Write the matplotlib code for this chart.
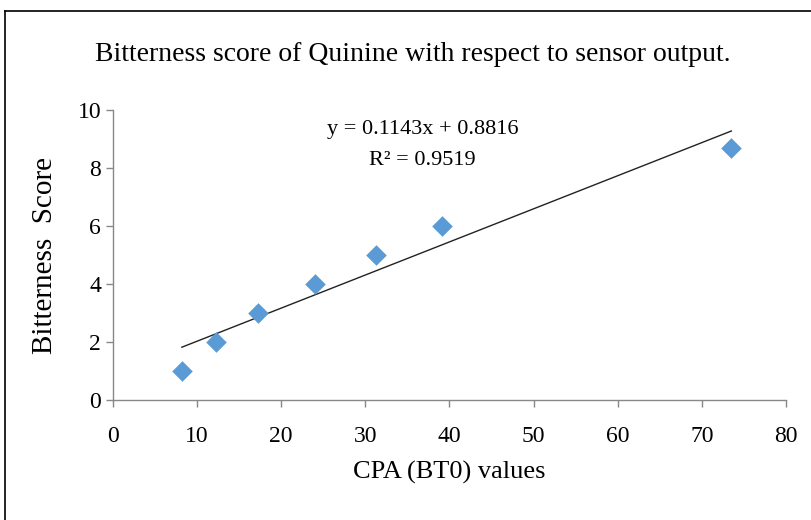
import matplotlib.pyplot as plt
from matplotlib.lines import Line2D

cpa = [8.2, 12.3, 17.3, 24.0, 31.3, 39.1, 73.5]
score = [1, 2, 3, 4, 5, 6, 8.7]
slope, intercept = 0.1143, 0.8816
r2 = 0.9519
xticks = [0, 10, 20, 30, 40, 50, 60, 70, 80]
yticks = [0, 2, 4, 6, 8, 10]

plt.rcParams['font.family'] = ['Liberation Serif', 'DejaVu Serif']

fig = plt.figure(figsize=(8.12, 5.2), dpi=100)
ax = fig.add_axes([0.139, 0.231, 0.829, 0.557])

# trendline over the data range
x0, x1 = min(cpa), max(cpa)
ax.plot([x0, x1], [slope * x0 + intercept, slope * x1 + intercept],
        color='#222222', lw=1.0, zorder=2)
ax.scatter(cpa, score, marker='D', s=110, color='#5B9BD5', zorder=3, linewidths=0)

ax.set_xlim(0, 80)
ax.set_ylim(0, 10)
ax.set_xticks(xticks)
ax.set_yticks(yticks)
for s in ['top', 'right']:
    ax.spines[s].set_visible(False)
for s in ['left', 'bottom']:
    ax.spines[s].set_color('#888888')
    ax.spines[s].set_linewidth(1.0)
ax.tick_params(colors='#888888', labelcolor='black', labelsize=17, length=5, width=1)
ax.tick_params(axis='x', pad=14)

ax.set_xlabel('CPA (BT0) values', fontsize=19, labelpad=10)
ax.set_ylabel('Bitterness  Score', fontsize=21, labelpad=14)
fig.text(0.509, 0.895, 'Bitterness score of Quinine with respect to sensor output.',
         fontsize=20, ha='center', va='center')

ax.text(0.46, 0.935, f'y = {slope}x + {intercept}', transform=ax.transAxes,
        fontsize=16, ha='center', va='center')
ax.text(0.46, 0.825, f'R² = {r2}', transform=ax.transAxes,
        fontsize=16, ha='center', va='center')

# outer chart border (top and left edges visible)
fig.add_artist(Line2D([0.006, 1.0], [0.979, 0.979], transform=fig.transFigure, color='black', lw=1.2))
fig.add_artist(Line2D([0.006, 0.006], [0.0, 0.979], transform=fig.transFigure, color='black', lw=1.2))

fig.savefig('out.png', dpi=100)
